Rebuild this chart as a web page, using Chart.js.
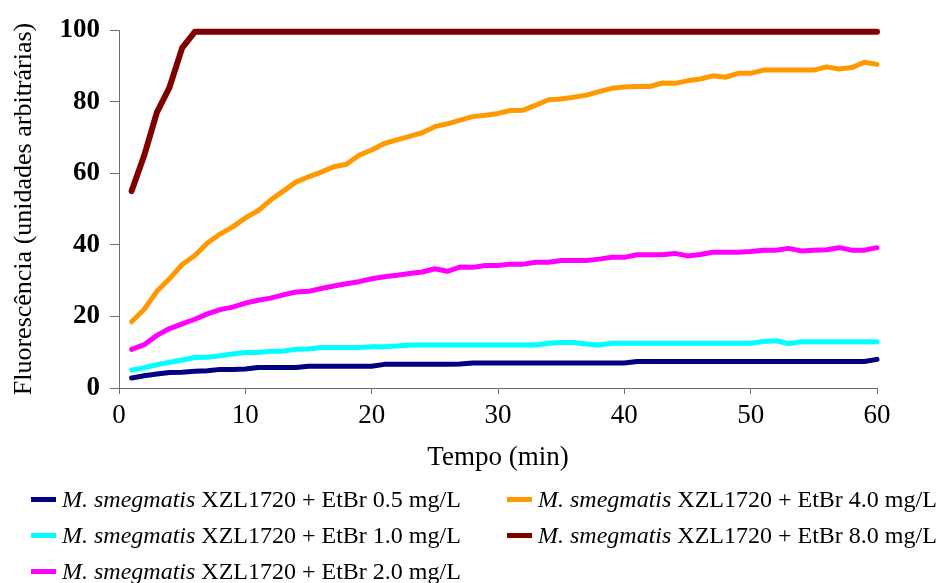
<!DOCTYPE html>
<html>
<head>
<meta charset="utf-8">
<script src="https://cdn.jsdelivr.net/npm/chart.js@4/dist/chart.umd.min.js"></script>
<style>
  html, body { margin: 0; padding: 0; background: #fff; }
  #wrap { position: relative; width: 939px; height: 583px; }
  #legend {
    position: absolute; left: 0; top: 481px; width: 939px;
    font-family: "Liberation Serif", "Times New Roman", serif; font-size: 24px; color: #000;
  }
  .item { position: absolute; height: 36px; line-height: 36px; white-space: nowrap; }
  .item .sw { position: absolute; top: 16px; width: 25px; height: 5px; }
  .item .tx { position: absolute; left: 31px; top: 0; }
</style>
</head>
<body>
<div id="wrap">
  <canvas id="chart" width="939" height="583"></canvas>
  <div id="legend"></div>
</div>
<script>
const minutes = [1,2,3,4,5,6,7,8,9,10,11,12,13,14,15,16,17,18,19,20,
  21,22,23,24,25,26,27,28,29,30,31,32,33,34,35,36,37,38,39,40,
  41,42,43,44,45,46,47,48,49,50,51,52,53,54,55,56,57,58,59,60];

const etbr05 = [2.8,3.4,3.9,4.3,4.4,4.7,4.8,5.2,5.2,5.3, 5.7,5.7,5.7,5.7,6.1,6.1,6.1,6.1,6.1,6.1,
  6.6,6.6,6.6,6.6,6.6,6.6,6.7,7.0,7.0,7.0, 7.0,7.0,7.0,7.0,7.0,7.0,7.0,7.0,7.0,7.0,
  7.4,7.4,7.4,7.4,7.4,7.4,7.4,7.4,7.4,7.4, 7.4,7.4,7.4,7.4,7.4,7.4,7.4,7.4,7.4,8.0];
const etbr10 = [5.0,5.7,6.5,7.2,7.8,8.5,8.6,9.0,9.5,9.9, 9.9,10.3,10.3,10.8,10.9,11.3,11.3,11.3,11.3,11.5,
  11.5,11.7,12.0,12.0,12.0,12.0,12.0,12.0,12.0,12.0, 12.0,12.0,12.0,12.5,12.7,12.7,12.3,12.0,12.5,12.5,
  12.5,12.5,12.5,12.5,12.5,12.5,12.5,12.5,12.5,12.5, 13.0,13.2,12.4,12.9,12.9,12.9,12.9,12.9,12.9,12.9];
const etbr20 = [10.8,12.1,14.7,16.6,17.9,19.2,20.7,21.9,22.6,23.7, 24.5,25.1,26.0,26.8,27.0,27.8,28.5,29.1,29.7,30.5,
  31.1,31.5,32.0,32.4,33.3,32.6,33.8,33.7,34.2,34.2, 34.6,34.6,35.1,35.1,35.6,35.6,35.6,36.0,36.5,36.5,
  37.2,37.2,37.2,37.6,36.9,37.3,37.9,37.9,37.9,38.1, 38.5,38.5,39.0,38.3,38.5,38.6,39.2,38.5,38.5,39.2];
const etbr40 = [18.5,22.0,27.0,30.5,34.5,37.0,40.5,43.0,45.0,47.5, 49.5,52.5,55.0,57.5,59.0,60.3,61.8,62.5,65.0,66.5,
  68.3,69.3,70.3,71.3,73.0,73.8,74.8,75.8,76.2,76.7, 77.5,77.6,79.0,80.5,80.7,81.2,81.8,82.8,83.7,84.1,
  84.2,84.2,85.2,85.1,85.8,86.3,87.2,86.8,87.9,87.9, 88.8,88.8,88.8,88.8,88.8,89.7,89.1,89.5,91.0,90.4];
const etbr80 = [55,65,77,84,95,99.5,99.5,99.5,99.5,99.5, 99.5,99.5,99.5,99.5,99.5,99.5,99.5,99.5,99.5,99.5,
  99.5,99.5,99.5,99.5,99.5,99.5,99.5,99.5,99.5,99.5, 99.5,99.5,99.5,99.5,99.5,99.5,99.5,99.5,99.5,99.5,
  99.5,99.5,99.5,99.5,99.5,99.5,99.5,99.5,99.5,99.5, 99.5,99.5,99.5,99.5,99.5,99.5,99.5,99.5,99.5,99.5];

const seriesLabels = ["0.5", "1.0", "2.0", "4.0", "8.0"];
const seriesData = [etbr05, etbr10, etbr20, etbr40, etbr80];
const seriesColors = ["#000080", "#00ffff", "#ff00ff", "#ff9900", "#800000"];
const seriesWidths = [5, 5, 5, 5, 6];

const xTicks = [0, 10, 20, 30, 40, 50, 60];
const yTicks = [0, 20, 40, 60, 80, 100];

const serif = "'Liberation Serif', 'Times New Roman', serif";
const axisGrey = "#6e6e6e";

const datasets = seriesData.map((vals, i) => ({
  label: "M. smegmatis XZL1720 + EtBr " + seriesLabels[i] + " mg/L",
  data: vals.map((v, k) => ({ x: minutes[k], y: v })),
  borderColor: seriesColors[i],
  backgroundColor: seriesColors[i],
  borderWidth: seriesWidths[i],
  borderCapStyle: "round",
  borderJoinStyle: "round",
  pointRadius: 0,
  tension: 0,
  clip: false
}));

new Chart(document.getElementById("chart").getContext("2d"), {
  type: "line",
  data: { datasets },
  options: {
    responsive: false,
    animation: false,
    layout: { padding: { left: 0, right: 62, top: 30, bottom: 109 } },
    plugins: { legend: { display: false }, tooltip: { enabled: false } },
    scales: {
      x: {
        type: "linear",
        min: 0, max: 60,
        afterBuildTicks: (scale) => { scale.ticks = xTicks.map(v => ({ value: v })); },
        afterFit: (scale) => { scale.height = 86; },
        grid: { drawOnChartArea: false, drawTicks: true, tickLength: 6, tickColor: axisGrey },
        border: { color: axisGrey, width: 1 },
        ticks: { color: "#000", padding: 6, maxRotation: 0, font: { family: serif, size: 27 } },
        title: {
          display: true, text: "Tempo (min)", color: "#000",
          padding: { top: 0, bottom: 0 },
          font: { family: serif, size: 27 }
        }
      },
      y: {
        min: 0, max: 100,
        afterBuildTicks: (scale) => { scale.ticks = yTicks.map(v => ({ value: v })); },
        afterFit: (scale) => { scale.width = 119; },
        grid: { drawOnChartArea: false, drawTicks: true, tickLength: 9, tickColor: axisGrey },
        border: { color: axisGrey, width: 1 },
        ticks: { color: "#000", padding: 10, font: { family: serif, size: 27, weight: "bold" } },
        title: {
          display: true, text: "Fluorescência (unidades arbitrárias)", color: "#000",
          padding: { top: 9, bottom: 0 },
          font: { family: serif, size: 26 }
        }
      }
    }
  }
});

// legend in two columns, like the original
const legendPos = [[31, 0], [31, 36], [31, 72], [507, 0], [507, 36]];
const legend = document.getElementById("legend");
seriesLabels.forEach((lab, i) => {
  const el = document.createElement("div");
  el.className = "item";
  el.style.left = legendPos[i][0] + "px";
  el.style.top = legendPos[i][1] + "px";
  el.innerHTML = '<span class="sw" style="background:' + seriesColors[i] + '"></span>' +
    '<span class="tx"><i>M. smegmatis</i> XZL1720 + EtBr ' + lab + ' mg/L</span>';
  legend.appendChild(el);
});
</script>
</body>
</html>
